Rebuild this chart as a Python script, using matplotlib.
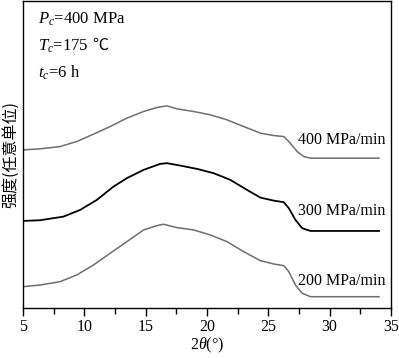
import matplotlib
matplotlib.use("Agg")
import matplotlib.pyplot as plt
from matplotlib.ticker import MultipleLocator

plt.rcParams['font.family'] = ['Liberation Serif', 'Noto Sans CJK SC', 'DejaVu Sans']
plt.rcParams['mathtext.fontset'] = 'custom'
plt.rcParams['mathtext.rm'] = 'Liberation Serif'
plt.rcParams['mathtext.it'] = 'Liberation Serif:italic'

# 400 MPa/min (top, gray)
x400 = [5.0, 6.39, 8.02, 9.38, 10.75, 12.11, 13.47, 14.83, 15.92, 16.74, 17.55, 18.92, 20.28, 21.64,
        23.0, 24.36, 25.45, 26.27, 26.68, 27.36, 27.90, 28.45, 34.03]
y400 = [157.5, 158.5, 160.8, 165.8, 173.2, 180.8, 189.2, 195.8, 199.8, 201.5, 198.5, 195.8, 192.5, 187.5,
        180.8, 174.2, 171.8, 170.8, 165.8, 155.8, 150.8, 149.2, 149.2]
# 300 MPa/min (middle, black)
x300 = [5.0, 6.39, 8.30, 9.66, 11.02, 12.38, 13.47, 14.83, 16.19, 16.74, 17.83, 19.19, 20.55, 21.91,
        23.27, 24.36, 25.45, 26.27, 26.68, 27.22, 27.77, 28.45, 34.03]
y300 = [86.5, 87.2, 90.8, 97.5, 107.5, 120.8, 129.2, 137.5, 143.5, 144.2, 141.8, 138.5, 134.2, 127.5,
        117.5, 109.8, 106.8, 105.2, 99.2, 87.5, 79.2, 76.5, 76.5]
# 200 MPa/min (bottom, gray)
x200 = [5.0, 6.39, 8.02, 9.38, 10.75, 12.11, 13.47, 14.83, 15.92, 16.47, 17.55, 18.92, 20.28, 21.64,
        23.0, 24.36, 25.45, 26.27, 26.68, 27.22, 27.77, 28.45, 34.03]
y200 = [20.8, 22.5, 25.8, 32.5, 42.5, 54.2, 65.8, 77.5, 81.8, 83.2, 79.8, 77.5, 72.5, 65.8,
        55.8, 46.8, 43.5, 41.8, 35.8, 22.5, 14.2, 10.8, 10.8]

series_labels = ['400 MPa/min', '300 MPa/min', '200 MPa/min']
label_y = [167.5, 96.5, 26.8]
xticks = [5, 10, 15, 20, 25, 30, 35]

fig = plt.figure(figsize=(3.99, 3.58), dpi=100)
ax = fig.add_axes([0.0576, 0.141, 0.922, 0.857])

ax.plot(x400, y400, color='#6e6e6e', lw=1.1)
ax.plot(x300, y300, color='#000000', lw=1.3)
ax.plot(x200, y200, color='#6e6e6e', lw=1.1)

for lab, yy in zip(series_labels, label_y):
    ax.text(27.45, yy, lab, fontsize=11.5, va='center', ha='left')

ax.set_xlim(5, 35)
ax.set_ylim(0, 306.5)
ax.set_xticks(xticks)
ax.set_xticklabels([str(t) for t in xticks])
ax.xaxis.set_minor_locator(MultipleLocator(2.5))
ax.set_yticks([])
ax.tick_params(axis='x', which='major', direction='out', length=6, width=1, labelsize=11.5, pad=2)
ax.tick_params(axis='x', which='minor', direction='out', length=4, width=1)
for s in ax.spines.values():
    s.set_linewidth(1.0)

ax.set_xlabel('2$\\mathit{\\theta}$(°)', fontsize=11.5, labelpad=1)
ax.set_ylabel('强度(任意单位)', fontsize=11.5, family=['Noto Sans CJK SC'], labelpad=3)

ax.text(0.04, 0.94, '$P_c$=400 MPa', transform=ax.transAxes, fontsize=12, va='center')
tt = ax.text(0.04, 0.853, '$T_c$=175', transform=ax.transAxes, fontsize=12, va='center')
ax.text(0.04, 0.765, '$t_c$=6 h', transform=ax.transAxes, fontsize=12, va='center')

fig.canvas.draw()
bb = tt.get_window_extent()
ax.annotate('℃', xy=(bb.x1 + 4, (bb.y0 + bb.y1) / 2 + 1), xycoords='figure pixels',
            fontsize=11.5, va='center', ha='left', family=['Noto Sans CJK SC'])

fig.savefig('out.png', dpi=100)
